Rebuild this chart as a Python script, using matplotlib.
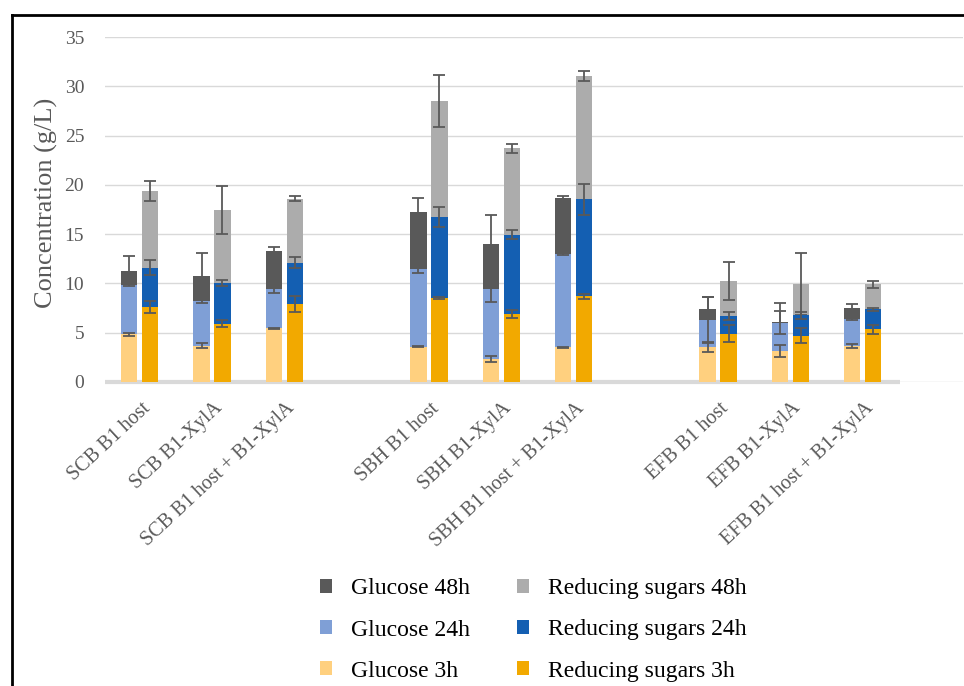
import numpy as np
import matplotlib
matplotlib.use("Agg")
import matplotlib.pyplot as plt
from matplotlib.patches import Patch
from matplotlib.lines import Line2D

nan = np.nan
categories = ["SCB B1 host", "SCB B1-XylA", "SCB B1 host + B1-XylA", "",
              "SBH B1 host", "SBH B1-XylA", "SBH B1 host + B1-XylA", "",
              "EFB B1 host", "EFB B1-XylA", "EFB B1 host + B1-XylA"]

glucose_48h = [11.3, 10.75, 13.3, nan, 17.25, 14.05, 18.65, nan, 7.4, 6.05, 7.54]
glucose_48h_err = [1.5, 2.3, 0.35, nan, 1.4, 2.85, 0.17, nan, 1.2, 2.0, 0.4]
glucose_24h = [9.84, 8.2, 9.47, nan, 11.5, 9.45, 12.95, nan, 6.29, 6.02, 6.39]
glucose_24h_err = [0.1, 0.2, 0.45, nan, 0.47, 1.33, 0.1, nan, 2.3, 1.18, 0.1]
glucose_3h = [4.84, 3.7, 5.44, nan, 3.6, 2.33, 3.52, nan, 3.55, 3.18, 3.65]
glucose_3h_err = [0.15, 0.27, 0.05, nan, 0.05, 0.27, 0.05, nan, 0.5, 0.6, 0.24]

rs_48h = [19.4, 17.45, 18.6, nan, 28.5, 23.7, 31.04, nan, 10.25, 9.94, 9.91]
rs_48h_err = [1.0, 2.4, 0.27, nan, 2.65, 0.47, 0.5, nan, 1.9, 3.1, 0.34]
rs_24h = [11.6, 10.0, 12.1, nan, 16.74, 14.95, 18.53, nan, 6.71, 6.75, 7.37]
rs_24h_err = [0.75, 0.3, 0.57, nan, 1.05, 0.42, 1.55, nan, 0.42, 0.4, 0.13]
rs_3h = [7.6, 5.9, 7.9, nan, 8.49, 6.9, 8.7, nan, 4.9, 4.7, 5.35]
rs_3h_err = [0.62, 0.37, 0.8, nan, 0.1, 0.42, 0.25, nan, 0.84, 0.78, 0.47]

series_labels = ["Glucose 48h", "Glucose 24h", "Glucose 3h",
                 "Reducing sugars 48h", "Reducing sugars 24h", "Reducing sugars 3h"]

plt.rcParams['font.family'] = ['Liberation Serif', 'DejaVu Serif']

C_G48 = "#595959"
C_G24 = "#7f9fd6"
C_G3 = "#ffd07f"
C_R48 = "#acacac"
C_R24 = "#145fb2"
C_R3 = "#f2a900"
EC = "#595959"

fig = plt.figure(figsize=(9.64, 6.86), dpi=100)
W, H = 964, 686
ax = fig.add_axes([105 / W, (H - 382) / H, (963 - 105) / W, 345 / H])

x = np.arange(len(categories))
slot_px = 72.3
xmax = (963 - 105) / slot_px - 0.5
ax.set_xlim(-0.5, xmax)
ax.set_ylim(0, 35)

gx = x - 0.165
rx = x + 0.125
w = 0.225

layers = [
    (glucose_48h, glucose_48h_err, C_G48, rs_48h, rs_48h_err, C_R48),
    (glucose_24h, glucose_24h_err, C_G24, rs_24h, rs_24h_err, C_R24),
    (glucose_3h, glucose_3h_err, C_G3, rs_3h, rs_3h_err, C_R3),
]
z = 3
for gv, ge, gc, rv, re, rc in layers:
    ax.bar(gx, gv, width=w, color=gc, zorder=z)
    ax.bar(rx, rv, width=w, color=rc, zorder=z)
    ax.errorbar(gx, gv, yerr=ge, fmt='none', ecolor=EC, elinewidth=1.3,
                capsize=4.5, capthick=1.3, zorder=z + 1)
    ax.errorbar(rx, rv, yerr=re, fmt='none', ecolor=EC, elinewidth=1.3,
                capsize=4.5, capthick=1.3, zorder=z + 1)
    z += 2

ax.set_yticks(np.arange(0, 36, 5))
ax.yaxis.grid(True, color="#d9d9d9", linewidth=1.0, zorder=0)
ax.set_axisbelow(True)
for s in ax.spines.values():
    s.set_visible(False)
ax.hlines(0, -0.5, 10.5, color="#d9d9d9", linewidth=3, zorder=2, clip_on=False)

ax.tick_params(axis='y', length=0, pad=15, labelsize=14, labelcolor="#595959")
ax.tick_params(axis='x', length=0)
ax.set_xticks(x)
ax.set_xticklabels(categories, rotation=43, ha='right', va='top',
                   rotation_mode='anchor', fontsize=14.5, color="#595959")
for lbl in ax.get_xticklabels():
    lbl.set_y(-0.035)

ax.set_ylabel("Concentration (g/L)", fontsize=19, color="#595959")
ax.yaxis.set_label_coords(-0.055, 0.52)

handles = [Patch(facecolor=c, edgecolor='none') for c in
           [C_G48, C_G24, C_G3, C_R48, C_R24, C_R3]]
fig.legend(handles, series_labels, ncol=2, loc='center',
           bbox_to_anchor=(0.553, 1 - 630 / H), frameon=False, fontsize=17,
           handlelength=0.5, handleheight=0.5, handletextpad=0.8,
           columnspacing=2.0, labelspacing=0.85)

# figure border (left and top edges visible)
fig.add_artist(Line2D([12 / W, 12 / W], [0, 1 - 15 / H], transform=fig.transFigure,
                      color='black', linewidth=2))
fig.add_artist(Line2D([12 / W, 1], [1 - 15 / H, 1 - 15 / H], transform=fig.transFigure,
                      color='black', linewidth=2))

fig.savefig("out.png", dpi=100, facecolor='white')
